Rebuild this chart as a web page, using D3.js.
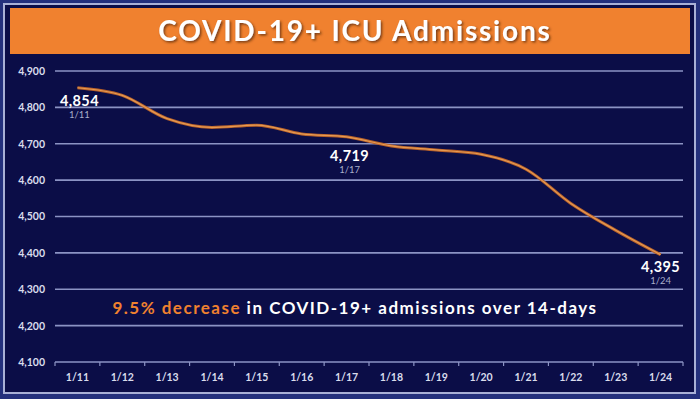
<!DOCTYPE html>
<html>
<head>
<meta charset="utf-8">
<script src="https://cdn.jsdelivr.net/npm/d3@7"></script>
<style>
  html, body { margin: 0; padding: 0; background: #24307c; }
  svg { display: block; }
</style>
</head>
<body>
<div id="chart"></div>
<script>
// data
const dates = ["1/11", "1/12", "1/13", "1/14", "1/15", "1/16", "1/17",
               "1/18", "1/19", "1/20", "1/21", "1/22", "1/23", "1/24"];
const admissions = [4854, 4833, 4769, 4745, 4751, 4727, 4719,
                    4694, 4683, 4671, 4630, 4536, 4462, 4395];
const yTicks = [4100, 4200, 4300, 4400, 4500, 4600, 4700, 4800, 4900];
const labelled = ["1/11", "1/17", "1/24"];

const W = 700, H = 399;
const fmt = d3.format(",");

const svg = d3.select("#chart").append("svg")
    .attr("width", W)
    .attr("height", H);

// frame
svg.append("rect")
    .attr("x", 0).attr("y", 0).attr("width", W).attr("height", H)
    .attr("fill", "#24307c");
svg.append("rect")
    .attr("x", 4).attr("y", 4).attr("width", 691).attr("height", 389)
    .attr("fill", "#0b0d47")
    .attr("stroke", "#a9b0d6")
    .attr("stroke-width", 2);

// title band
svg.append("rect")
    .attr("x", 10).attr("y", 8).attr("width", 680).attr("height", 46)
    .attr("fill", "#f0812f");

const defs = svg.append("defs");
const shadow = defs.append("filter").attr("id", "shadow")
    .attr("x", "-10%").attr("y", "-30%").attr("width", "120%").attr("height", "160%");
shadow.append("feDropShadow")
    .attr("dx", 1.5).attr("dy", 1.5).attr("stdDeviation", 1.2)
    .attr("flood-color", "#5a2a08").attr("flood-opacity", 0.8);

svg.append("text")
    .attr("x", 355).attr("y", 41)
    .attr("text-anchor", "middle")
    .attr("font-family", "Lato, 'Open Sans', sans-serif")
    .attr("font-weight", "bold")
    .attr("font-size", 28)
    .attr("letter-spacing", 1.8)
    .attr("fill", "#ffffff")
    .attr("filter", "url(#shadow)")
    .text("COVID-19+ ICU Admissions");

// scales
const margin = { left: 55, right: 17, top: 71, bottom: 37 };
const x = d3.scaleBand()
    .domain(dates)
    .range([margin.left, W - margin.right]);

const y = d3.scaleLinear()
    .domain([4100, 4900])
    .range([H - margin.bottom, margin.top]);

// grid lines
svg.append("g")
    .selectAll("line")
    .data(yTicks.filter(d => d > 4100))
    .join("line")
    .attr("x1", margin.left)
    .attr("x2", W - margin.right)
    .attr("y1", d => y(d))
    .attr("y2", d => y(d))
    .attr("stroke", "#8c93c4")
    .attr("stroke-width", 1.6);

// y axis labels
const yAxis = d3.axisLeft(y)
    .tickValues(yTicks)
    .tickFormat(fmt)
    .tickSize(0)
    .tickPadding(0);

svg.append("g")
    .attr("transform", "translate(" + (margin.left - 10) + ",0)")
    .call(yAxis)
    .call(g => g.select(".domain").remove())
    .selectAll("text")
    .attr("fill", "#d9dcec")
    .attr("font-family", "Lato, sans-serif")
    .attr("font-weight", "bold")
    .attr("font-size", 10.5);

// x axis with ticks on band boundaries
const xAxisG = svg.append("g")
    .attr("transform", "translate(0," + y(4100) + ")");

xAxisG.append("line")
    .attr("x1", margin.left).attr("x2", W - margin.right)
    .attr("stroke", "#8c93c4").attr("stroke-width", 1.6);

xAxisG.selectAll("line.tick")
    .data(dates.concat(["end"]))
    .join("line")
    .attr("class", "tick")
    .attr("x1", d => d === "end" ? x.range()[1] : x(d))
    .attr("x2", d => d === "end" ? x.range()[1] : x(d))
    .attr("y1", 0).attr("y2", 4)
    .attr("stroke", "#8c93c4").attr("stroke-width", 1.2);

xAxisG.selectAll("text")
    .data(dates)
    .join("text")
    .attr("x", d => x(d) + x.bandwidth() / 2)
    .attr("y", 19)
    .attr("text-anchor", "middle")
    .attr("fill", "#d9dcec")
    .attr("font-family", "Lato, sans-serif")
    .attr("font-weight", "bold")
    .attr("font-size", 10.5)
    .text(d => d);

// line
const points = dates.map((d, i) => ({ date: d, value: admissions[i] }));

const line = d3.line()
    .x(d => x(d.date) + x.bandwidth() / 2)
    .y(d => y(d.value))
    .curve(d3.curveMonotoneX);

svg.append("path")
    .datum(points)
    .attr("d", line)
    .attr("fill", "none")
    .attr("stroke", "#b8612a")
    .attr("stroke-width", 3);

svg.append("path")
    .datum(points)
    .attr("d", line)
    .attr("fill", "none")
    .attr("stroke", "#e59a52")
    .attr("stroke-width", 1.2);

// point labels
const labelShift = { "1/11": [2, 0], "1/17": [3, 6], "1/24": [0, -1] };

const labels = svg.append("g")
    .selectAll("g")
    .data(points.filter(d => labelled.includes(d.date)))
    .join("g")
    .attr("transform", d => "translate(" + (x(d.date) + x.bandwidth() / 2 + labelShift[d.date][0]) + "," + (y(d.value) + labelShift[d.date][1]) + ")");

labels.append("text")
    .attr("y", 18)
    .attr("text-anchor", "middle")
    .attr("fill", "#ffffff")
    .attr("font-family", "Lato, sans-serif")
    .attr("font-weight", "bold")
    .attr("font-size", 14.5)
    .attr("letter-spacing", 0.4)
    .text(d => fmt(d.value));

labels.append("text")
    .attr("y", 30)
    .attr("text-anchor", "middle")
    .attr("fill", "#a7acc9")
    .attr("font-family", "Lato, sans-serif")
    .attr("font-size", 9.5)
    .text(d => d.date);

// annotation
const note = svg.append("text")
    .attr("x", 355).attr("y", 314)
    .attr("text-anchor", "middle")
    .attr("font-family", "Lato, sans-serif")
    .attr("font-weight", "bold")
    .attr("font-size", 17)
    .attr("letter-spacing", 1.5);
note.append("tspan").attr("fill", "#f0812f").text("9.5% decrease");
note.append("tspan").attr("fill", "#ffffff").text(" in COVID-19+ admissions over 14-days");
</script>
</body>
</html>
